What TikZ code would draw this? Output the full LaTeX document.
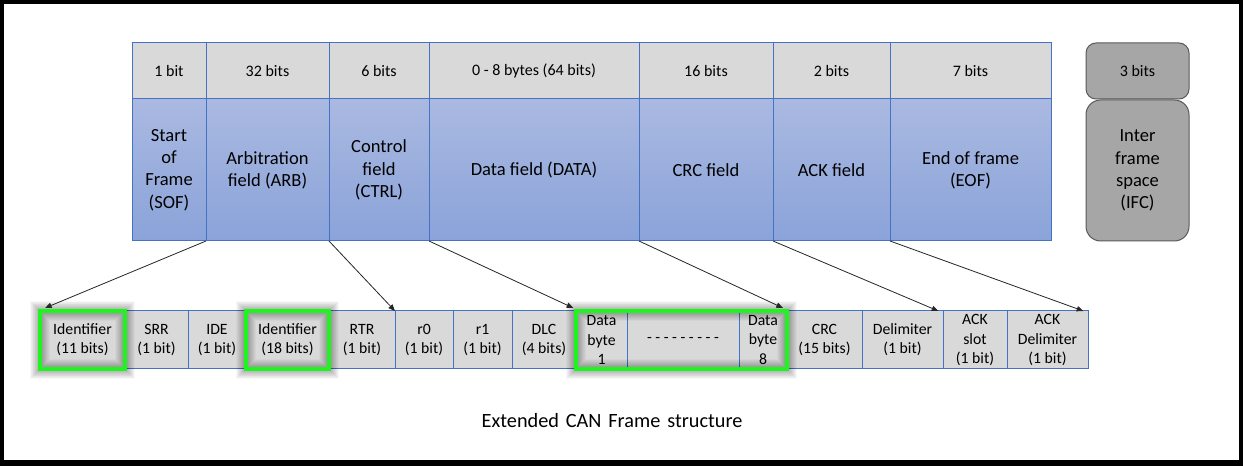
\documentclass[tikz,border=0pt]{standalone}
\usepackage{fontspec}
\setmainfont{Carlito}
\usetikzlibrary{arrows.meta}
\definecolor{cellblue}{HTML}{4472C4}
\definecolor{cellgray}{HTML}{D9D9D9}
\definecolor{bluetop}{HTML}{AAB9E1}
\definecolor{bluebot}{HTML}{8AA3D9}
\definecolor{ifcfill}{HTML}{A6A6A6}
\definecolor{ifcdraw}{HTML}{5A5A5A}
\definecolor{hlgreen}{HTML}{1EF51E}
\newcommand{\canbox}[7]{\node[#6, minimum width={((#4)-(#2))*0.75pt}, minimum height={((#5)-(#3))*0.75pt}] (#1) at ({((#2)+(#4))/2},{((#3)+(#5))/2}) {#7};}
\tikzset{
  base/.style={rectangle, inner sep=0pt, outer sep=0pt, align=center, line width=0.75pt, text=black},
  graycell/.style={base, fill=cellgray, draw=cellblue, font=\fontsize{12}{14.5}\selectfont},
  bluecell/.style={base, top color=bluetop, bottom color=bluebot, draw=cellblue, font=\fontsize{13.9}{16.7}\selectfont},
  ifcbox/.style={base, fill=ifcfill, draw=ifcdraw},
  lowcell/.style={base, fill=cellgray, draw=cellblue, font=\fontsize{11.8}{14.4}\selectfont},
  link/.style={-{Triangle[length=5pt,width=4pt]}, line width=0.6pt, draw=black!85},
  greenbox/.style={draw=hlgreen, line width=3.4pt},
  glow/.style={draw=black, opacity=0.022, line width=#1},
}
\begin{document}
\begin{tikzpicture}[x=0.75pt,y=-0.75pt]
\useasboundingbox (0,0) rectangle (1243,466);
\fill[black] (0,0) rectangle (1243,466);
\fill[white] (4,4) rectangle (1239,460);
% top row: sizes
\canbox{b1}{132}{43}{206}{99}{graycell}{1 bit}
\canbox{b2}{206}{43}{329}{99}{graycell}{32 bits}
\canbox{b3}{329}{43}{429}{99}{graycell}{6 bits}
\canbox{b4}{429}{43}{639}{99}{graycell}{0 - 8 bytes (64 bits)}
\canbox{b5}{639}{43}{773}{99}{graycell}{16 bits}
\canbox{b6}{773}{43}{890}{99}{graycell}{2 bits}
\canbox{b7}{890}{43}{1051}{99}{graycell}{7 bits}
% top row: fields
\canbox{fsof}{132}{99}{206}{241}{bluecell}{Start\\of\\Frame\\(SOF)}
\canbox{farb}{206}{99}{329}{241}{bluecell}{Arbitration\\field (ARB)}
\canbox{fctrl}{329}{99}{429}{241}{bluecell}{Control\\field\\(CTRL)}
\canbox{fdata}{429}{99}{639}{241}{bluecell}{Data field (DATA)}
\canbox{fcrc}{639}{99}{773}{241}{bluecell}{CRC field}
\canbox{fack}{773}{99}{890}{241}{bluecell}{ACK field}
\canbox{feof}{890}{99}{1051}{241}{bluecell}{End of frame\\(EOF)}
% inter frame space
\canbox{ifcbits}{1086}{43}{1189}{99}{ifcbox, rounded corners=7.5pt, font=\fontsize{12}{14.5}\selectfont}{3 bits}
\canbox{ifc}{1086}{100}{1189}{241}{ifcbox, rounded corners=11pt, font=\fontsize{13.9}{16.7}\selectfont}{Inter\\frame\\space\\(IFC)}
% bottom row
\canbox{idA}{40}{311}{125}{369}{lowcell}{Identifier\\(11 bits)}
\canbox{srr}{125}{311}{188}{369}{lowcell}{SRR\\(1 bit)}
\canbox{ide}{188}{311}{246}{369}{lowcell}{IDE\\(1 bit)}
\canbox{idB}{246}{311}{329}{369}{lowcell}{Identifier\\(18 bits)}
\canbox{rtr}{329}{311}{395}{369}{lowcell}{RTR\\(1 bit)}
\canbox{rzero}{395}{311}{453}{369}{lowcell}{r0\\(1 bit)}
\canbox{rone}{453}{311}{512}{369}{lowcell}{r1\\(1 bit)}
\canbox{dlc}{512}{311}{576}{369}{lowcell}{DLC\\(4 bits)}
\canbox{dbone}{576}{311}{627}{369}{lowcell}{Data\\byte\\1}
\canbox{dbdots}{627}{311}{739}{369}{lowcell}{- - - - - - - - -}
\canbox{dbeight}{739}{311}{787}{369}{lowcell}{Data\\byte\\8}
\canbox{crc}{787}{311}{862}{369}{lowcell}{CRC\\(15 bits)}
\canbox{delim}{862}{311}{943}{369}{lowcell}{Delimiter\\(1 bit)}
\canbox{ackslot}{943}{311}{1007}{369}{lowcell}{ACK\\slot\\(1 bit)}
\canbox{ackdel}{1007}{311}{1088}{369}{lowcell}{ACK\\Delimiter\\(1 bit)}
% soft glow and green highlight
\foreach \w in {4,5,...,15}{
  \draw[glow=\w pt] (idA.north west) rectangle (idA.south east);
  \draw[glow=\w pt] (idB.north west) rectangle (idB.south east);
  \draw[glow=\w pt] (dbone.north west) rectangle (dbeight.south east);
}
\draw[greenbox] (idA.north west) rectangle (idA.south east);
\draw[greenbox] (idB.north west) rectangle (idB.south east);
\draw[greenbox] (dbone.north west) rectangle (dbeight.south east);
% connectors
\draw[link] (farb.south west) -- ([xshift=3.75pt,yshift=2.25pt]idA.north west);
\draw[link] (fctrl.south west) -- (rzero.north west);
\draw[link] (fdata.south west) -- ([xshift=-2pt,yshift=2.25pt]dbone.north west);
\draw[link] (fcrc.south west) -- ([xshift=-3pt,yshift=2.25pt]dbeight.north east);
\draw[link] (fack.south west) -- ([xshift=-3.5pt]delim.north east);
\draw[link] (feof.south west) -- ([xshift=-3.5pt]ackdel.north east);
% caption
\node[font=\fontsize{15.2}{18}\selectfont] (caption) at (612,421) {Extended\hspace{0.34em}CAN\hspace{0.34em}Frame\hspace{0.34em}structure};
\end{tikzpicture}
\end{document}
